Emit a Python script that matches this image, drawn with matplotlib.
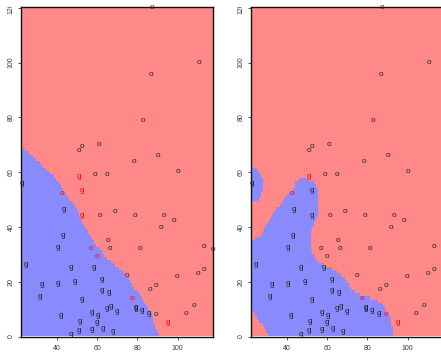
import numpy as np
import matplotlib
matplotlib.use("Agg")
import matplotlib.pyplot as plt
from matplotlib.path import Path
from matplotlib.colors import ListedColormap
from matplotlib.transforms import Bbox, TransformedBbox

# ---- training points: class "o" ----
o_x = [87.0, 110.6, 86.9, 82.8, 90.4, 60.7, 52.6, 50.8, 78.2, 100.0, 58.8, 64.7,
       42.5, 61.4, 69.0, 78.5, 93.1, 98.1, 91.6, 56.8, 66.5, 65.2, 81.0, 113.1,
       117.3, 59.8, 75.0, 99.4, 110.1, 112.8, 86.1, 89.4, 77.0, 108.2, 89.4, 104.0]
o_y = [120.0, 100.1, 95.7, 78.9, 66.1, 70.1, 69.4, 67.9, 63.8, 60.3, 59.2, 59.2,
       52.1, 44.1, 45.5, 44.1, 44.1, 42.2, 39.7, 32.0, 32.0, 34.9, 32.0, 32.7,
       31.6, 29.1, 22.1, 21.8, 23.0, 24.4, 17.1, 18.5, 13.8, 11.2, 7.9, 8.3]

# ---- training points: class "g" ----
g_x = [50.9, 22.6, 52.3, 43.5, 52.6, 43.0, 40.5, 24.6, 47.1, 58.1, 62.4, 32.7,
       40.6, 49.1, 62.4, 65.9, 31.4, 52.6, 42.0, 57.1, 60.2, 64.7, 66.7, 69.9,
       79.0, 79.3, 82.3, 85.9, 95.1, 51.3, 59.6, 50.8, 57.1, 63.0, 67.9, 47.0]
g_y = [58.4, 55.8, 53.2, 46.5, 44.3, 36.9, 32.6, 26.3, 25.2, 25.2, 20.7, 19.1,
       19.3, 20.2, 16.9, 16.2, 14.7, 13.6, 7.6, 8.7, 7.6, 10.3, 10.9, 9.2,
       10.5, 10.3, 9.4, 8.5, 5.2, 5.4, 5.2, 2.3, 2.6, 3.0, 1.9, 0.7]

# ---- predicted "g" region, smooth classifier ----
smooth_g_x = [15, 22.4, 25.6, 30.5, 35.5, 40.5, 45.5, 49.6, 52.1, 54.6, 57.5, 61.2,
              65.4, 71.3, 74.0, 77.2, 80.3, 84.4, 87.1, 89.4, 91.2, 91.3, 15]
smooth_g_y = [69.2, 69.2, 67.0, 63.9, 60.3, 56.6, 51.1, 46.3, 42.6, 39.6, 35.3, 31.6,
              28.0, 24.3, 22.1, 19.5, 15.8, 10.9, 8.5, 3.0, 0.5, -5, -5]

# ---- predicted "g" regions, flexible classifier ----
flex_g1_x = [15, 24.0, 25.6, 27.2, 28.1, 28.2, 27.2, 26.4, 24.7, 15]
flex_g1_y = [61.6, 61.5, 60.3, 58.4, 56.0, 53.6, 51.7, 50.2, 49.3, 48.9]

flex_g2_x = [32.3, 30.5, 28.5, 25.3, 22.4, 15, 15, 22.4, 25.6, 28.9, 31.4, 33.9,
             37.2, 40.5, 43.1, 44.8, 46.4, 48.1, 50.5, 52.5, 54.5, 55.6, 55.9, 55.6,
             53.5, 51.8, 51.3, 51.6, 53.1, 55.0, 57.5, 61.4, 65.0, 68.0, 71.2, 74.0,
             77.8, 81.1, 84.4, 87.8, 90.2, 91.9, 92.6, 92.6]
flex_g2_y = [-5, 1.2, 3.3, 6.6, 9.7, 10.5, 34.8, 34.8, 35.9, 38.3, 42.6, 45.6,
             48.1, 51.7, 53.6, 56.4, 57.5, 57.9, 57.6, 56.5, 55.0, 53.6, 48.7, 44.5,
             40.5, 37.5, 35.0, 32.8, 29.8, 27.3, 26.3, 25.1, 23.8, 21.8, 18.2, 15.8,
             14.8, 14.0, 12.9, 11.3, 9.3, 6.0, 2.4, -5]

x_ticks = [20, 40, 60, 80, 100, 120]
y_ticks = [0, 20, 40, 60, 80, 100, 120]

RED_BG = "#FF8989"
BLUE_BG = "#8A8AFF"
TXT = "#1E1E1E"
font = ["Liberation Sans", "DejaVu Sans"]

xlim = (22.3, 117.5)
ylim = (0.0, 120.3)

fig = plt.figure(figsize=(4.41, 3.53), dpi=100)
fig.patch.set_facecolor("white")

W, H = 441.0, 353.0
panels = [
    (21.3, [(smooth_g_x, smooth_g_y)]),
    (251.3, [(flex_g1_x, flex_g1_y), (flex_g2_x, flex_g2_y)]),
]

ox, oy = np.array(o_x), np.array(o_y)
gx, gy = np.array(g_x), np.array(g_y)

for left_px, regions in panels:
    ax = fig.add_axes([left_px / W, 16.5 / H, 191.7 / W, 329.5 / H])
    paths = [Path(np.column_stack([rx, ry])) for rx, ry in regions]

    def in_g(px, py):
        pts = np.column_stack([px, py])
        inside = np.zeros(len(pts), dtype=bool)
        for p in paths:
            inside |= p.contains_points(pts)
        return inside

    # classification grid
    nx, ny = 100, 100
    xe = np.linspace(xlim[0], xlim[1], nx + 1)
    ye = np.linspace(ylim[0], ylim[1], ny + 1)
    xc = 0.5 * (xe[:-1] + xe[1:])
    yc = 0.5 * (ye[:-1] + ye[1:])
    XX, YY = np.meshgrid(xc, yc)
    grid = in_g(XX.ravel(), YY.ravel()).reshape(XX.shape).astype(int)
    ax.imshow(grid, origin="lower", extent=(xlim[0], xlim[1], ylim[0], ylim[1]),
              cmap=ListedColormap([RED_BG, BLUE_BG]), vmin=0, vmax=1,
              interpolation="nearest", aspect="auto", zorder=0)

    # points, red where the prediction disagrees with the label
    o_wrong = in_g(ox, oy)
    g_wrong = ~in_g(gx, gy)
    for x, y, w in zip(ox, oy, o_wrong):
        ax.text(x, y, "o", color="red" if w else TXT, fontsize=5.9, family=font,
                ha="center", va="center", zorder=3)
    for x, y, w in zip(gx, gy, g_wrong):
        ax.text(x, y, "g", color="red" if w else TXT, fontsize=5.9, family=font,
                ha="center", va="center", zorder=3)

    ax.set_xticks(x_ticks)
    ax.set_yticks(y_ticks)
    ax.set_xlim(*xlim)
    ax.set_ylim(*ylim)
    ax.tick_params(axis="both", direction="out", length=2.2, width=0.6,
                   color="#333333", labelsize=5.0, labelcolor="#3A3A3A")
    ax.tick_params(axis="x", pad=4.0)
    ax.tick_params(axis="y", pad=2.6)
    for lab in ax.get_xticklabels() + ax.get_yticklabels():
        lab.set_family(font)
    plt.setp(ax.get_yticklabels(), rotation=90, va="center", ha="right")
    for s in ax.spines.values():
        s.set_linewidth(1.0)
        s.set_color("#111111")

# the figure region ends a few pixels below the top edge; labels beyond it are cut
fig.canvas.draw()
clip = TransformedBbox(Bbox.from_extents(0, 0, 1, 1 - 6.5 / H), fig.transFigure)
for ax in fig.axes:
    for lab in ax.get_yticklabels():
        lab.set_clip_box(clip)
        lab.set_clip_on(True)

fig.savefig("out.png", dpi=100)
